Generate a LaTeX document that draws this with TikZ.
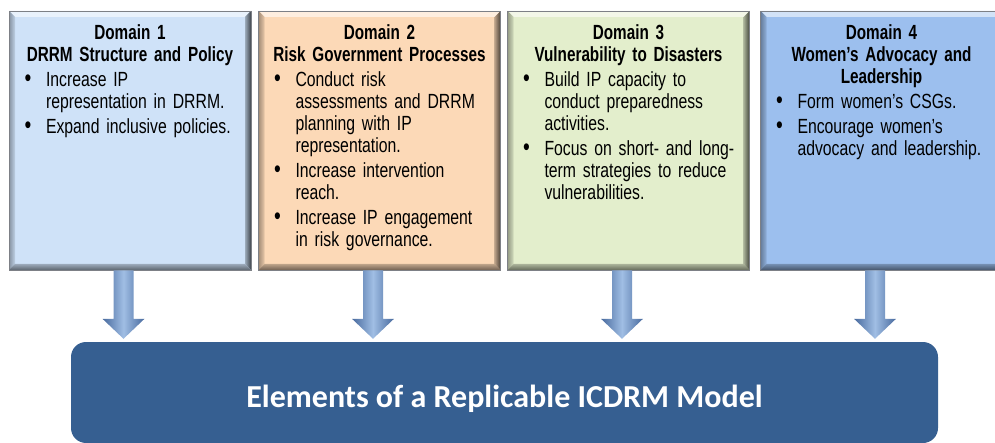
\documentclass[tikz,border=0pt]{standalone}
\usepackage{fontspec}
\setmainfont{Liberation Sans}[FakeStretch=0.77]
\newfontfamily\headfont{Liberation Sans}[FakeStretch=0.745]
\newfontfamily\modelfont{Carlito}
\usetikzlibrary{calc}

\definecolor{domOne}{RGB}{207,226,248}
\definecolor{domTwo}{RGB}{252,217,183}
\definecolor{domThree}{RGB}{227,238,204}
\definecolor{domFour}{RGB}{156,191,238}
\definecolor{panelrim}{RGB}{125,128,134}
\definecolor{modelblue}{RGB}{54,95,145}
\definecolor{arrowdark}{RGB}{72,106,158}
\definecolor{arrowlight}{RGB}{160,190,228}

% heading and bullet items inside a domain panel
\newcommand\panelhead[1]{{\centering\headfont\bfseries #1\par}}
\newcommand\pitem[1]{{\raggedright\let\\\newline
  \hangindent=29pt\hangafter=1\noindent
  \makebox[29pt][l]{\hspace{7.5pt}{\fontsize{25}{22}\selectfont\textbullet}}#1\par}}

\tikzset{
  panel/.style={rectangle, draw=panelrim, line width=0.8pt, fill=#1,
    minimum width=242pt, minimum height=259pt, inner sep=0pt,
    path picture={
      % bevelled rim: light top, shaded sides and bottom
      \fill[#1!45!white]
        (path picture bounding box.north west) -- (path picture bounding box.north east)
        -- ($(path picture bounding box.north east)+(-6,-6)$)
        -- ($(path picture bounding box.north west)+(6,-6)$) -- cycle;
      \shade[left color=#1!65!black, right color=#1!92!black]
        (path picture bounding box.north west)
        -- ($(path picture bounding box.north west)+(6,-6)$)
        -- ($(path picture bounding box.south west)+(6,6)$)
        -- (path picture bounding box.south west) -- cycle;
      \shade[left color=#1!75!black, right color=#1!30!black]
        (path picture bounding box.north east)
        -- ($(path picture bounding box.north east)+(-6,-6)$)
        -- ($(path picture bounding box.south east)+(-6,6)$)
        -- (path picture bounding box.south east) -- cycle;
      \shade[top color=#1!75!black, bottom color=#1!45!black]
        (path picture bounding box.south west)
        -- ($(path picture bounding box.south west)+(6,6)$)
        -- ($(path picture bounding box.south east)+(-6,6)$)
        -- (path picture bounding box.south east) -- cycle;
    }},
  panelbody/.style={anchor=north, text width=226pt, inner sep=0pt,
    font=\fontsize{20.5}{22}\selectfont,
    execute at begin node={\setlength{\parskip}{3pt}}},
  modelbox/.style={rectangle, rounded corners=15pt, fill=modelblue,
    minimum width=867pt, minimum height=101pt, inner sep=0pt},
  modeltext/.style={text=white, inner sep=0pt,
    font=\modelfont\bfseries\fontsize{32}{36}\selectfont},
  flowarrow/.style={left color=arrowdark, right color=arrowdark,
    middle color=arrowlight}
}

\begin{document}
\begin{tikzpicture}[x=1pt, y=1pt]
\useasboundingbox (0,0) rectangle (995,-443);
\clip (0,0) rectangle (995,-443);

% the four domain panels
\node[panel=domOne]   (b1) at (130,-140.5) {};
\node[panel=domTwo]   (b2) at (379.5,-140.5) {};
\node[panel=domThree] (b3) at (628.5,-140.5) {};
\node[panel=domFour]  (b4) at (881.5,-140.5) {};

\node[panelbody] (t1) at ($(b1.north)+(0,-13.5)$) {%
  \panelhead{Domain 1\\DRRM Structure and Policy}%
  \pitem{Increase IP\\representation in DRRM.}%
  \pitem{Expand inclusive policies.}};

\node[panelbody] (t2) at ($(b2.north)+(0,-13.5)$) {%
  \panelhead{Domain 2\\Risk Government Processes}%
  \pitem{Conduct risk\\assessments and DRRM\\planning with IP\\representation.}%
  \pitem{Increase intervention\\reach.}%
  \pitem{Increase IP engagement\\in risk governance.}};

\node[panelbody] (t3) at ($(b3.north)+(0,-13.5)$) {%
  \panelhead{Domain 3\\Vulnerability to Disasters}%
  \pitem{Build IP capacity to\\conduct preparedness\\activities.}%
  \pitem{Focus on short- and long-\\term strategies to reduce\\vulnerabilities.}};

\node[panelbody] (t4) at ($(b4.north)+(0,-13.5)$) {%
  \panelhead{Domain 4\\Women’s Advocacy and\\Leadership}%
  \pitem{Form women’s CSGs.}%
  \pitem{Encourage women’s\\advocacy and leadership.}};

% the model they feed into
\node[modelbox] (model) at (504.5,-392.5) {};
\node[modeltext] (mlabel) at ($(model.center)+(0,-6)$) {Elements of a Replicable ICDRM Model};

% block arrows from each panel down to the model
\foreach \b in {b1,b2,b3,b4}{
  \shade[flowarrow] let \p1=($(\b.south)+(-6.5,0)$), \p2=(model.north) in
    (\x1-10,\y1) -- (\x1+10,\y1) -- (\x1+10,\y2+23) -- (\x1+21,\y2+23)
    -- (\x1,\y2+3) -- (\x1-21,\y2+23) -- (\x1-10,\y2+23) -- cycle;
}
\end{tikzpicture}
\end{document}
